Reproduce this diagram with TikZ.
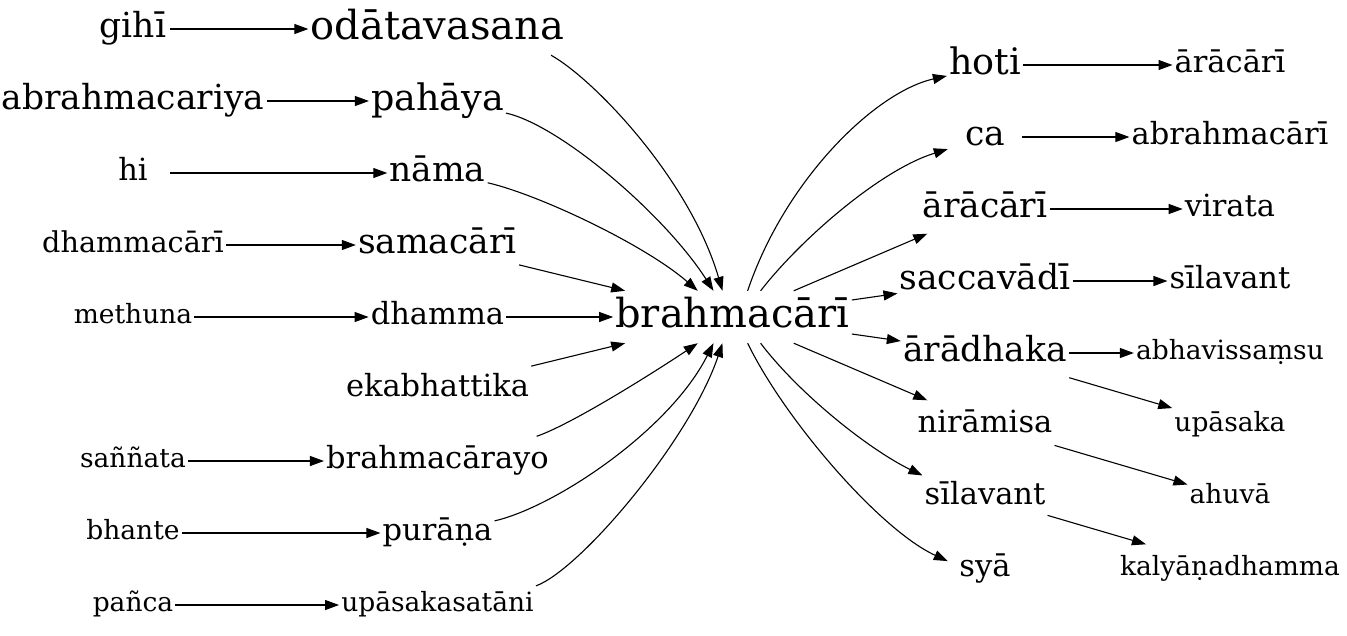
\documentclass[tikz,border=0pt]{standalone}
\usepackage{fontspec}
\setmainfont{DejaVu Serif}
\usetikzlibrary{arrows.meta}

\begin{document}
\begin{tikzpicture}[x=1pt,y=-1pt,
    word/.style={inner xsep=2pt,inner ysep=6pt,minimum width=74pt,minimum height=49pt},
    w40/.style={word,font=\fontsize{40}{40}\selectfont,text height=30pt,text depth=10pt},
    w36/.style={word,font=\fontsize{36.5}{36.5}\selectfont,text height=27.4pt,text depth=9.1pt},
    w34/.style={word,font=\fontsize{34.5}{34.5}\selectfont,text height=25.9pt,text depth=8.6pt},
    w30/.style={word,font=\fontsize{30.5}{30.5}\selectfont,text height=22.9pt,text depth=7.6pt},
    w28/.style={word,font=\fontsize{28.7}{28.7}\selectfont,text height=21.5pt,text depth=7.2pt},
    w26/.style={word,font=\fontsize{26.5}{26.5}\selectfont,text height=19.9pt,text depth=6.6pt},
    arr/.style={-{Triangle[length=14pt,width=10pt]},line width=1.1pt}
  ]
    \useasboundingbox (0,0) rectangle (1347,635);
    % left, first column
    \node[w34] (gihi) at (133,29) {gihī};
    \node[w34] (abrcariya) at (133,101) {abrahmacariya};
    \node[w30] (hi) at (133,173) {hi};
    \node[w28] (dhcari) at (133,245) {dhammacārī};
    \node[w26] (methuna) at (133,317) {methuna};
    \node[w26] (sannata) at (133,461) {saññata};
    \node[w26] (bhante) at (133,533) {bhante};
    \node[w26] (panca) at (133,605) {pañca};
    % left, second column
    \node[w40] (odat) at (437.5,29) {odātavasana};
    \node[w36] (pahaya) at (437.5,101) {pahāya};
    \node[w34] (nama) at (437.5,173) {nāma};
    \node[w34] (samacari) at (437.5,245) {samacārī};
    \node[w30] (dhamma) at (437.5,317) {dhamma};
    \node[w30] (ekabh) at (437.5,389) {ekabhattika};
    \node[w30] (brayo) at (437.5,461) {brahmacārayo};
    \node[w30] (purana) at (437.5,533) {purāṇa};
    \node[w26] (upsata) at (437.5,605) {upāsakasatāni};
    % centre
    \node[w40] (root) at (732.5,317) {brahmacārī};
    % right, first column
    \node[w36] (hoti) at (985,65) {hoti};
    \node[w34] (ca) at (985,137) {ca};
    \node[w34] (aracari) at (985,209) {ārācārī};
    \node[w34] (saccav) at (985,281) {saccavādī};
    \node[w34] (aradh) at (985,353) {ārādhaka};
    \node[w30] (niramisa) at (985,425) {nirāmisa};
    \node[w30] (silav) at (985,497) {sīlavant};
    \node[w30] (sya) at (985,569) {syā};
    % right, second column
    \node[w30] (aracariB) at (1230,65) {ārācārī};
    \node[w30] (abrcari) at (1230,137) {abrahmacārī};
    \node[w30] (virata) at (1230,209) {virata};
    \node[w30] (silavB) at (1230,281) {sīlavant};
    \node[w26] (abhav) at (1230,353) {abhavissaṃsu};
    \node[w26] (upasaka) at (1230,425) {upāsaka};
    \node[w26] (ahuva) at (1230,497) {ahuvā};
    \node[w26] (kalyana) at (1230,569) {kalyāṇadhamma};

    \draw[arr] (gihi) -- (odat);
    \draw[arr] (abrcariya) -- (pahaya);
    \draw[arr] (hi) -- (nama);
    \draw[arr] (dhcari) -- (samacari);
    \draw[arr] (methuna) -- (dhamma);
    \draw[arr] (sannata) -- (brayo);
    \draw[arr] (bhante) -- (purana);
    \draw[arr] (panca) -- (upsata);

    \draw[arr] (odat.-13) .. controls (595,80) and (690,180) .. (root.111);
    \draw[arr] (pahaya.-10) .. controls (560,125) and (665,215) .. (root.126);
    \draw[arr] (nama.-11) .. controls (540,195) and (645,245) .. (root.143);
    \draw[arr] (samacari) -- (root);
    \draw[arr] (dhamma) -- (root);
    \draw[arr] (ekabh) -- (root);
    \draw[arr] (brayo.14) .. controls (570,425) and (650,375) .. (root.217);
    \draw[arr] (purana.12) .. controls (555,507) and (670,430) .. (root.234);
    \draw[arr] (upsata.11) .. controls (580,570) and (690,440) .. (root.249);

    \draw[arr] (root.60) .. controls (785,180) and (875,92) .. (hoti.196);
    \draw[arr] (root.43) .. controls (800,240) and (880,170) .. (ca.198);
    \draw[arr] (root) -- (aracari);
    \draw[arr] (root) -- (saccav);
    \draw[arr] (root) -- (aradh);
    \draw[arr] (root) -- (niramisa);
    \draw[arr] (root.-43) .. controls (800,395) and (870,450) .. (silav.161);
    \draw[arr] (root.-60) .. controls (785,420) and (880,530) .. (sya.168);

    \draw[arr] (hoti) -- (aracariB);
    \draw[arr] (ca) -- (abrcari);
    \draw[arr] (aracari) -- (virata);
    \draw[arr] (saccav) -- (silavB);
    \draw[arr] (aradh) -- (abhav);
    \draw[arr] (aradh) -- (upasaka);
    \draw[arr] (niramisa) -- (ahuva);
    \draw[arr] (silav) -- (kalyana);
  \end{tikzpicture}
\end{document}
